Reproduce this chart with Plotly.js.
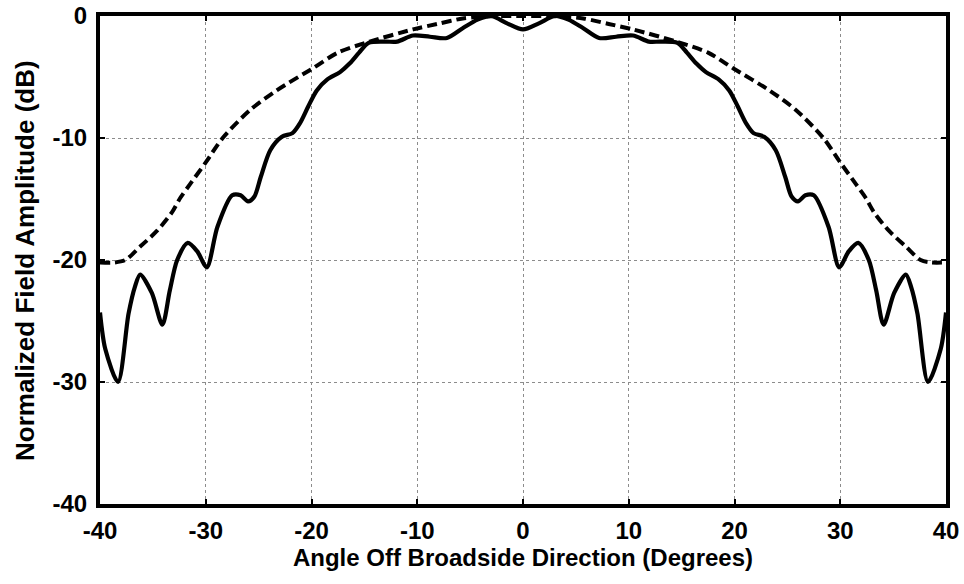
<!DOCTYPE html>
<html>
<head>
<meta charset="utf-8">
<script src="https://cdn.plot.ly/plotly-3.0.1.min.js"></script>
<style>
html,body{margin:0;padding:0;background:#fff;}
#chart{width:964px;height:584px;}
</style>
</head>
<body>
<div id="chart"></div>
<script>
// Solid curve: measured pattern
const solidX = [-40, -39.5, -38.3, -37.3, -36.7, -36.2, -35.1, -34.1, -33.4, -32.7, -31.7, -30.8, -29.9, -28.9, -27.5, -26.7, -26.0, -25.4, -24.8, -23.9, -22.8, -21.8, -21.1, -20.3, -19.5, -18.5, -17.3, -16.4, -15.5, -14.6, -13.0, -11.9, -10.4, -8.8, -7.2, -5.7, -4.3, -3.0, -1.5, 0,
                1.5, 3.0, 4.3, 5.7, 7.2, 8.8, 10.4, 11.9, 13.0, 14.6, 15.5, 16.4, 17.3, 18.5, 19.5, 20.3, 21.1, 21.8, 22.8, 23.9, 24.8, 25.4, 26.0, 26.7, 27.5, 28.9, 29.9, 30.8, 31.7, 32.7, 33.4, 34.1, 35.1, 36.2, 36.7, 37.3, 38.3, 39.5, 40];
const solidY = [-24.3, -27.3, -30.0, -24.4, -22.2, -21.2, -22.7, -25.3, -22.5, -20.0, -18.6, -19.3, -20.6, -17.3, -14.7, -14.7, -15.2, -14.8, -13.2, -11.0, -9.9, -9.6, -8.8, -7.4, -6.1, -5.2, -4.6, -3.9, -3.0, -2.2, -2.1, -2.1, -1.6, -1.7, -1.8, -1.0, -0.3, 0.0, -0.6, -1.1,
                -0.6, 0.0, -0.3, -1.0, -1.8, -1.7, -1.6, -2.1, -2.1, -2.2, -3.0, -3.9, -4.6, -5.2, -6.1, -7.4, -8.8, -9.6, -9.9, -11.0, -13.2, -14.8, -15.2, -14.7, -14.7, -17.3, -20.6, -19.3, -18.6, -20.0, -22.5, -25.3, -22.7, -21.2, -22.2, -24.4, -30.0, -27.3, -24.3];

// Dashed curve
const dashX = [-40, -38.6, -37.6, -36.2, -34.6, -33.2, -32.4, -31.5, -30.0, -28.4, -25.8, -23.3, -19.9, -17.5, -14.5, -10.4, -8.1, -5.7, -3.0, 0,
               3.0, 5.7, 8.1, 10.4, 14.5, 17.5, 19.9, 23.3, 25.8, 28.4, 30.0, 31.5, 32.4, 33.2, 34.6, 36.2, 37.6, 38.6, 40];
const dashY = [-20.2, -20.2, -20.0, -18.9, -17.6, -16.1, -14.9, -13.8, -12.0, -10.0, -7.7, -6.1, -4.3, -3.0, -2.1, -1.1, -0.65, -0.2, -0.02, 0,
               -0.02, -0.2, -0.65, -1.1, -2.1, -3.0, -4.3, -6.1, -7.7, -10.0, -12.0, -13.8, -14.9, -16.1, -17.6, -18.9, -20.0, -20.2, -20.2];

const xTicks = [-40, -30, -20, -10, 0, 10, 20, 30, 40];
const yTicks = [-40, -30, -20, -10, 0];

const fontFam = 'Liberation Sans, Arial, sans-serif';

const traces = [
  {x: solidX, y: solidY, mode: 'lines', type: 'scatter',
   line: {color: '#000', width: 4.2, shape: 'spline', smoothing: 0.8}},
  {x: dashX, y: dashY, mode: 'lines', type: 'scatter',
   line: {color: '#000', width: 4, shape: 'spline', smoothing: 0.8, dash: '10px,5px'}}
];

const axisCommon = {
  showline: true, linecolor: '#000', linewidth: 4, mirror: 'allticks',
  ticks: 'inside', ticklen: 5, tickwidth: 2, tickcolor: '#000',
  showgrid: true, gridcolor: '#8c8c8c', gridwidth: 1, griddash: 'dot',
  zeroline: false,
  tickfont: {family: fontFam, size: 24, color: '#000', weight: 'bold'}
};

const layout = {
  width: 964, height: 584,
  margin: {l: 100, r: 18, t: 16, b: 80},
  paper_bgcolor: '#fff', plot_bgcolor: '#fff',
  showlegend: false,
  xaxis: Object.assign({}, axisCommon, {
    range: [-40, 40], tickmode: 'array', tickvals: xTicks, ticktext: xTicks.map(String),
    ticklabelstandoff: 2,
    title: {text: 'Angle Off Broadside Direction (Degrees)', standoff: 7,
            font: {family: fontFam, size: 24, color: '#000', weight: 'bold'}}
  }),
  yaxis: Object.assign({}, axisCommon, {
    range: [-40, 0], tickmode: 'array', tickvals: yTicks, ticktext: yTicks.map(String),
    ticklabelstandoff: 4
  }),
  annotations: [{
    text: 'Normalized Field Amplitude (dB)', textangle: -90, showarrow: false,
    xref: 'paper', yref: 'paper', x: -0.0887, y: 0.5, xanchor: 'center', yanchor: 'middle',
    font: {family: fontFam, size: 26, color: '#000', weight: 'bold'}
  }]
};

Plotly.newPlot('chart', traces, layout, {displayModeBar: false, staticPlot: true});
</script>
</body>
</html>
